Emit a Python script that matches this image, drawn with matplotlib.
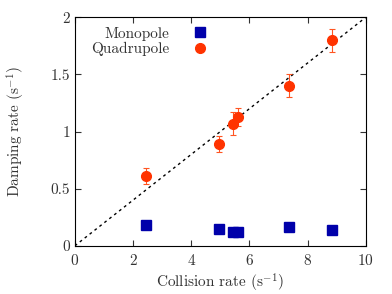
import matplotlib
matplotlib.use('Agg')
import matplotlib.pyplot as plt
from matplotlib.lines import Line2D

plt.rcParams['font.family'] = 'serif'
plt.rcParams['font.serif'] = ['cmr10']
plt.rcParams['mathtext.fontset'] = 'cm'
plt.rcParams['axes.formatter.use_mathtext'] = True

# collision rates (s^-1)
coll_rate = [2.44, 4.97, 5.42, 5.62, 7.37, 8.85]
# damping rates (s^-1)
monopole = [0.178, 0.146, 0.117, 0.117, 0.166, 0.137]
quadrupole = [0.61, 0.89, 1.07, 1.13, 1.40, 1.80]
quad_err = [0.07, 0.07, 0.10, 0.08, 0.10, 0.10]

line_x = [0, 10]
line_y = [0, 2]

blue = '#0000aa'
red = '#ff3300'

fig, ax = plt.subplots(figsize=(3.92, 2.94), dpi=100)
fig.subplots_adjust(left=0.191, right=0.933, top=0.941, bottom=0.164)

ax.plot(line_x, line_y, ls=(0, (2, 2.5)), c='black', lw=1.0)
ax.plot(coll_rate, monopole, 's', c=blue, ms=6.5, ls='none')
ax.errorbar(coll_rate, quadrupole, yerr=quad_err, fmt='o', c=red,
            ms=7, elinewidth=0.8, capsize=2, capthick=0.8, ecolor='#ff5522')

ax.set_xlim(0, 10)
ax.set_ylim(0, 2)
ax.set_xticks([0, 2, 4, 6, 8, 10])
ax.set_yticks([0, 0.5, 1, 1.5, 2])
ax.set_yticklabels(['0', '0.5', '1', '1.5', '2'])
ax.tick_params(direction='in', top=True, right=True, length=4, width=0.8,
               labelsize=11, colors='#333333', labelcolor='#333333')
ax.tick_params(axis='x', pad=5)
ax.set_xlabel('Collision rate (s$^{-1}$)', fontsize=11, color='#333333',
              labelpad=3)
ax.set_ylabel('Damping rate (s$^{-1}$)', fontsize=11, color='#333333',
              labelpad=17)

handles = [Line2D([], [], marker='s', ls='none', c=blue, ms=6.5),
           Line2D([], [], marker='o', ls='none', c=red, ms=7)]
leg = ax.legend(handles, ['Monopole', 'Quadrupole'], loc='upper left',
                bbox_to_anchor=(0.01, 1.02), frameon=False,
                markerfirst=False, fontsize=11, handletextpad=1.2,
                labelspacing=0.1, handlelength=1.5)
for t in leg.get_texts():
    t.set_color('#333333')
# right-align the legend rows like gnuplot does
for col in leg._legend_handle_box.get_children():
    col.align = 'right'

fig.savefig('out.png', dpi=100)
